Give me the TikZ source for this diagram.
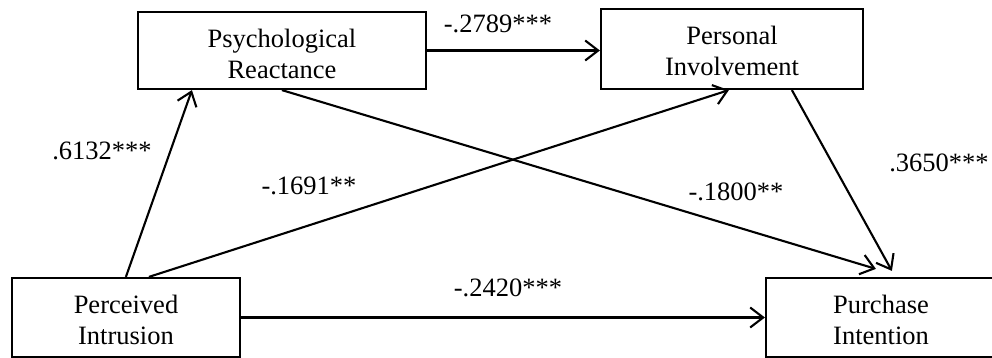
\documentclass[tikz,border=0pt]{standalone}
\usepackage{fontspec}
\setmainfont{Liberation Serif}
\usetikzlibrary{arrows.meta,calc}
\begin{document}
\begin{tikzpicture}[x=1pt,y=-1pt,
  box/.style={draw,line width=2.2pt,rectangle,inner sep=0pt},
  txt/.style={align=center,font=\fontsize{26.5}{31}\selectfont,inner sep=0pt},
  coef/.style={font=\fontsize{26.5}{30}\selectfont,inner sep=0pt},
  arr/.style={line width=2.1pt,-{Straight Barb[length=13pt,width=20pt,line width=2.1pt]}}]
\useasboundingbox (0,0) rectangle (992,358);
% boxes
\node[box,minimum width=288pt,minimum height=77pt] (pr) at (282,50.5) {};
\node[box,minimum width=262pt,minimum height=80pt] (pinv) at (732,49) {};
\node[box,minimum width=228pt,minimum height=79pt] (pi) at (126,317.5) {};
\node[box,minimum width=230pt,minimum height=79pt] (pur) at (881,317.5) {};
% texts
\node[txt] (prt) at (282,53.5) {Psychological\\Reactance};
\node[txt] (pinvt) at (732,51) {Personal\\Involvement};
\node[txt] (pit) at (126,320) {Perceived\\Intrusion};
\node[txt] (purt) at (881,320) {Purchase\\Intention};
% arrows
\draw[arr] (pr.east) -- (pr.east -| pinv.west);
\draw[arr] (pi.east) -- (pi.east -| pur.west);
\draw[arr] ([xshift=115pt]pi.north west) -- ([xshift=55pt]pr.south west);
\draw[arr] ([xshift=138pt]pi.north west) -- ([xshift=129pt]pinv.south west);
\draw[arr] ([xshift=145pt]pr.south west) -- ([xshift=111pt,yshift=8pt]pur.north west);
\draw[arr] ([xshift=192pt]pinv.south west) -- ([xshift=127pt,yshift=6pt]pur.north west);
% coefficients
\node[coef] (c1) at (102,151) {.6132***};
\node[coef] (c2) at (309,186) {-.1691**};
\node[coef] (c3) at (498,24) {-.2789***};
\node[coef] (c4) at (939,163) {.3650***};
\node[coef] (c5) at (736,192) {-.1800**};
\node[coef] (c6) at (508,288) {-.2420***};
\end{tikzpicture}
\end{document}
